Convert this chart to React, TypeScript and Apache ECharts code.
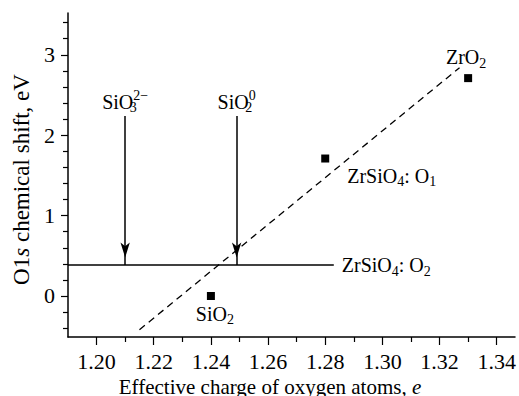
import React, { useEffect, useRef } from "react";
import * as echarts from "echarts";

// ---- data ----
const pointLabels = ["SiO{sub|2}", "ZrSiO{sub|4}: O{sub|1}", "ZrO{sub|2}"];
const pointX = [1.24, 1.28, 1.33];
const pointY = [0, 1.71, 2.71];

const fitX = [1.215, 1.327];
const fitY = [-0.42, 2.84];

const levelX = [1.19, 1.283];
const levelY = 0.385;
const levelLabel = "ZrSiO{sub|4}: O{sub|2}";

const arrowX = [1.21, 1.249];
const arrowTopY = 2.24;
const arrowLabels = ["SiO{sub0|3}{sup|2−}", "SiO{sub0|2}{sup|0}"];

const xMajorTicks = [1.2, 1.22, 1.24, 1.26, 1.28, 1.3, 1.32, 1.34];
const xMinorTicks = [1.21, 1.23, 1.25, 1.27, 1.29, 1.31, 1.33];
const yMajorTicks = [0, 1, 2, 3];
const yMinorTicks = [-0.4, -0.2, 0.2, 0.4, 0.6, 0.8, 1.2, 1.4, 1.6, 1.8, 2.2, 2.4, 2.6, 2.8, 3.2, 3.4];

const FONT = "'Liberation Serif', 'Times New Roman', serif";

const rich = {
  sub: { fontSize: 14, lineHeight: 14, verticalAlign: "bottom", fontFamily: FONT, color: "#000" },
  sub0: { fontSize: 14, lineHeight: 14, verticalAlign: "bottom", fontFamily: FONT, color: "#000", width: 0 },
  sup: { fontSize: 14, lineHeight: 14, verticalAlign: "top", fontFamily: FONT, color: "#000" },
};
const richX = { i: { fontStyle: "italic", fontSize: 21, fontFamily: FONT, color: "#000" } };
const richY = { i: { fontStyle: "italic", fontSize: 23, fontFamily: FONT, color: "#000" } };

export default function App() {
  const ref = useRef<HTMLDivElement>(null);
  useEffect(() => {
    if (!ref.current) return;
    const chart = echarts.init(ref.current, null, { renderer: "svg" });
    const labelBase = {
      show: true,
      color: "#000",
      opacity: 1,
      fontFamily: FONT,
      fontSize: 20,
      lineHeight: 26,
      rich,
    };
    const pointLabelPos: any[] = [
      { position: "bottom", distance: 1, offset: [4, 0] },
      { position: "right", distance: 5, offset: [13, 17] },
      { position: "top", distance: 4, offset: [-2, 0] },
    ];
    const option: any = {
      animation: false,
      backgroundColor: "#fff",
      grid: { left: 68, top: 13, right: 4, bottom: 59, containLabel: false, outerBoundsMode: "none" },
      xAxis: [
        {
          type: "value",
          min: 1.19,
          max: 1.3464,
          position: "bottom",
          axisLine: { show: true, onZero: false, lineStyle: { color: "#000", width: 1.5 } },
          axisTick: { show: true, customValues: xMajorTicks, length: 8, lineStyle: { color: "#000", width: 1.2 } },
          axisLabel: {
            customValues: xMajorTicks,
            formatter: (v: number) => v.toFixed(2),
            color: "#000",
            fontFamily: FONT,
            fontSize: 22,
            margin: 13,
          },
          splitLine: { show: false },
          name: "Effective charge of oxygen atoms, {i|e}",
          nameLocation: "middle",
          nameGap: 32,
          nameTextStyle: { color: "#000", fontFamily: FONT, fontSize: 21, padding: [0, 43, 0, 0], rich: richX },
        },
        {
          type: "value",
          min: 1.19,
          max: 1.3464,
          position: "bottom",
          offset: 0,
          axisLine: { show: false, onZero: false },
          axisTick: { show: true, customValues: xMinorTicks, length: 5, lineStyle: { color: "#000", width: 1.2 } },
          axisLabel: { show: false },
          splitLine: { show: false },
        },
      ],
      yAxis: [
        {
          type: "value",
          min: -0.51,
          max: 3.52,
          position: "left",
          axisLine: { show: true, onZero: false, lineStyle: { color: "#000", width: 1.5 } },
          axisTick: { show: true, customValues: yMajorTicks, length: 7, lineStyle: { color: "#000", width: 1.2 } },
          axisLabel: {
            customValues: yMajorTicks,
            color: "#000",
            fontFamily: FONT,
            fontSize: 22,
            margin: 13,
          },
          splitLine: { show: false },
          name: "O1{i|s} chemical shift, eV",
          nameLocation: "middle",
          nameGap: 34,
          nameTextStyle: { color: "#000", fontFamily: FONT, fontSize: 23, padding: [0, 9, 0, 0], rich: richY },
        },
        {
          type: "value",
          min: -0.51,
          max: 3.52,
          position: "left",
          offset: 0,
          axisLine: { show: false, onZero: false },
          axisTick: { show: true, customValues: yMinorTicks, length: 5, lineStyle: { color: "#000", width: 1.2 } },
          axisLabel: { show: false },
          splitLine: { show: false },
        },
      ],
      series: [
        {
          type: "line",
          name: "fit",
          data: fitX.map((x, i) => [x, fitY[i]]),
          showSymbol: false,
          symbol: "none",
          lineStyle: { color: "#000", width: 1.3, type: [7, 5] },
          z: 2,
        },
        {
          type: "scatter",
          name: "points",
          symbol: "rect",
          symbolSize: 8,
          itemStyle: { color: "#000", opacity: 1 },
          data: pointX.map((x, i) => ({
            value: [x, pointY[i]],
            label: { ...labelBase, formatter: pointLabels[i], ...pointLabelPos[i] },
          })),
          z: 3,
        },
        {
          type: "line",
          name: "level",
          data: levelX.map((x) => [x, levelY]),
          showSymbol: false,
          symbol: "none",
          lineStyle: { color: "#000", width: 1.5 },
          endLabel: { ...labelBase, formatter: levelLabel, distance: 8 },
          z: 2,
        },
        {
          type: "line",
          name: "arrows",
          data: [],
          markLine: {
            silent: true,
            symbol: ["none", "arrow"],
            symbolSize: [7, 15],
            symbolOffset: [[0, 0], [0, 7.5]],
            lineStyle: { color: "#000", width: 1.5, type: "solid" },
            label: {
              ...labelBase,
              position: "start",
              distance: 1,
              formatter: (p: any) => arrowLabels[p.dataIndex],
            },
            data: arrowX.map((x) => [
              { coord: [x, arrowTopY] },
              { coord: [x, levelY] },
            ]),
          },
        },
      ],
    };
    chart.setOption(option);
    return () => chart.dispose();
  }, []);
  return (
    <div
      ref={ref}
      style={{ position: "fixed", left: 0, top: 0, width: 519, height: 396, background: "#fff" }}
    />
  );
}
